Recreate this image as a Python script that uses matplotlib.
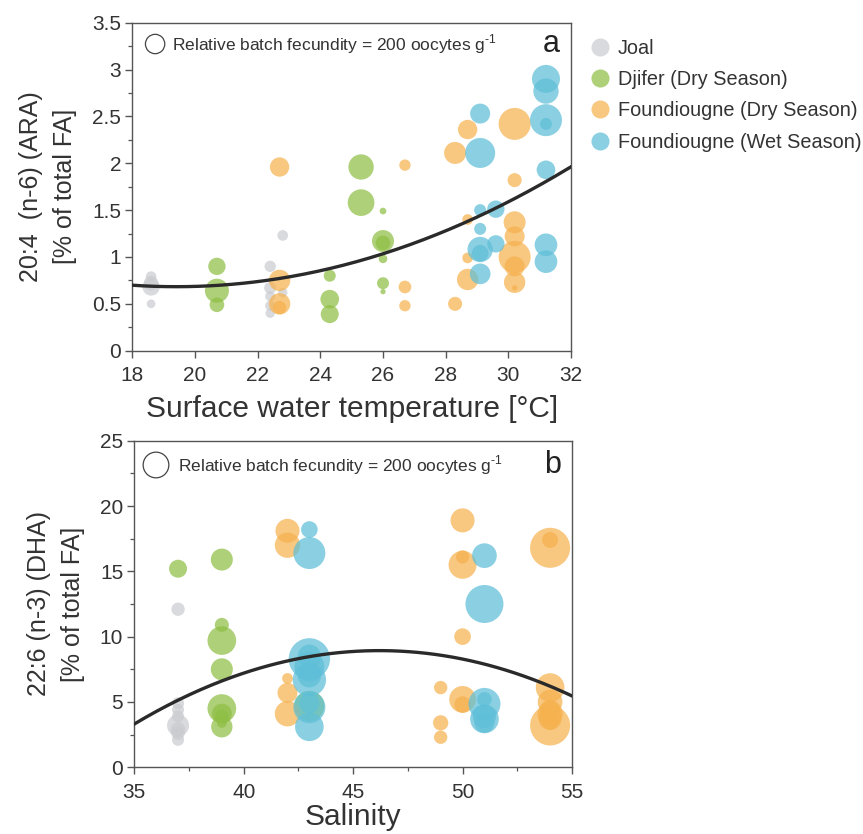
import matplotlib
matplotlib.use("Agg")
import matplotlib.pyplot as plt
import numpy as np
from matplotlib.lines import Line2D
from matplotlib.ticker import MultipleLocator, FormatStrFormatter

plt.rcParams["font.family"] = ["Liberation Sans", "DejaVu Sans"]
plt.rcParams["mathtext.fontset"] = "custom"
plt.rcParams["mathtext.rm"] = "Liberation Sans"

# ---- panel a: ARA vs surface water temperature ----
joal_a_temp = [18.6, 18.6, 18.6, 18.6, 22.4, 22.4, 22.4, 22.4, 22.4, 22.8, 22.8]
joal_a_ara = [0.79, 0.72, 0.68, 0.50, 0.90, 0.67, 0.58, 0.48, 0.40, 1.23, 0.62]
joal_a_fec = [61, 115, 161, 40, 69, 77, 54, 54, 47, 61, 47]

djifer_a_temp = [20.7, 20.7, 20.7, 24.3, 24.3, 24.3, 25.3, 25.3,
                 26.0, 26.0, 26.0, 26.0, 26.0, 26.0]
djifer_a_ara = [0.90, 0.64, 0.49, 0.80, 0.55, 0.39, 1.96, 1.58,
                1.49, 1.17, 1.15, 0.98, 0.72, 0.63]
djifer_a_fec = [161, 308, 115, 77, 186, 173, 343, 380, 24, 259, 115, 40, 77, 15]

fdry_a_temp = [22.7, 22.7, 22.7, 22.7, 26.7, 26.7, 26.7, 28.3, 28.3,
               28.7, 28.7, 28.7, 28.7,
               30.2, 30.2, 30.2, 30.2, 30.2, 30.2, 30.2, 30.2]
fdry_a_ara = [1.96, 0.75, 0.50, 0.46, 1.98, 0.68, 0.48, 2.11, 0.50,
              2.36, 1.40, 0.99, 0.76,
              2.42, 1.82, 1.37, 1.22, 1.00, 0.90, 0.73, 0.67]
fdry_a_fec = [200, 244, 244, 95, 69, 86, 69, 259, 105,
              200, 61, 61, 244,
              548, 105, 259, 214, 548, 214, 244, 15]

fwet_a_temp = [29.1, 29.1, 29.1, 29.1, 29.1, 29.1, 29.1, 29.6, 29.6,
               31.2, 31.2, 31.2, 31.2, 31.2, 31.2, 31.2]
fwet_a_ara = [2.53, 2.11, 1.50, 1.30, 1.08, 1.04, 0.82, 1.51, 1.14,
              2.90, 2.77, 2.46, 2.42, 1.93, 1.13, 0.95]
fwet_a_fec = [214, 482, 77, 77, 343, 149, 229, 161, 161,
              420, 343, 548, 77, 186, 275, 275]

# quadratic fit, vertex form: y = a * (x - x0)^2 + y0
ara_fit = {"a": 0.00806, "x0": 19.4, "y0": 0.683}

# ---- panel b: DHA vs salinity ----
joal_b_sal = [37, 37, 37, 37, 37, 37, 37, 37]
joal_b_dha = [12.1, 4.9, 4.4, 3.9, 3.2, 2.9, 2.6, 2.1]
joal_b_fec = [54, 44, 44, 44, 147, 65, 54, 44]

djifer_b_sal = [37, 39, 39, 39, 39, 39, 39, 39, 39, 39, 43]
djifer_b_dha = [15.2, 15.9, 10.9, 9.7, 7.5, 4.5, 4.1, 3.9, 3.4, 3.1, 4.7]
djifer_b_fec = [98, 147, 60, 249, 147, 249, 121, 54, 30, 138, 273]

fdry_b_sal = [42, 42, 42, 42, 42, 49, 49, 49, 50, 50, 50, 50, 50, 50,
              54, 54, 54, 54, 54, 54, 54, 54, 54]
fdry_b_dha = [18.1, 17.0, 6.8, 5.7, 4.1, 6.1, 3.4, 2.3,
              18.9, 16.1, 15.5, 10.0, 5.2, 4.8,
              17.4, 16.8, 6.1, 5.0, 4.4, 4.1, 3.75, 3.5, 3.2]
fdry_b_fec = [175, 195, 35, 121, 195, 54, 71, 54,
              175, 54, 238, 84, 216, 84,
              78, 486, 249, 185, 121, 195, 165, 84, 486]

fwet_b_sal = [43, 43, 43, 43, 43, 43, 43, 43, 43, 43,
              51, 51, 51, 51, 51, 51, 51]
fwet_b_dha = [18.2, 16.4, 8.3, 8.5, 7.7, 7.0, 6.7, 4.9, 4.6, 3.1,
              16.2, 12.5, 5.2, 4.85, 3.9, 3.7, 3.4]
fwet_b_fec = [84, 311, 519, 165, 273, 165, 337, 121, 311, 249,
              185, 438, 65, 311, 165, 249, 121]

dha_fit = {"a": -0.0448, "x0": 46.2, "y0": 8.93}

groups = ["Joal", "Djifer (Dry Season)", "Foundiougne (Dry Season)",
          "Foundiougne (Wet Season)"]
colors = ["#cbccd0", "#8fbf45", "#f6b24f", "#5fbfd8"]
ink = "#333333"

# marker area (pt^2) per unit of relative batch fecundity, one per panel
scale_a = 194 / 200
scale_b = 342 / 200

fig = plt.figure(figsize=(8.63, 8.34), dpi=100)
ax_a = fig.add_axes([0.1533, 0.5795, 0.5084, 0.3933])
ax_b = fig.add_axes([0.1556, 0.0800, 0.5072, 0.3916])

panel_a = [(joal_a_temp, joal_a_ara, joal_a_fec),
           (djifer_a_temp, djifer_a_ara, djifer_a_fec),
           (fdry_a_temp, fdry_a_ara, fdry_a_fec),
           (fwet_a_temp, fwet_a_ara, fwet_a_fec)]
panel_b = [(joal_b_sal, joal_b_dha, joal_b_fec),
           (djifer_b_sal, djifer_b_dha, djifer_b_fec),
           (fdry_b_sal, fdry_b_dha, fdry_b_fec),
           (fwet_b_sal, fwet_b_dha, fwet_b_fec)]


def draw_panel(ax, data, scale, fit, xlim, ylim, letter, label_pos):
    for (x, y, fec), col in zip(data, colors):
        ax.scatter(x, y, s=np.array(fec) * scale, color=col, alpha=0.72,
                   linewidths=0, zorder=2)
    xs = np.linspace(xlim[0], xlim[1], 200)
    ax.plot(xs, fit["a"] * (xs - fit["x0"]) ** 2 + fit["y0"],
            color="#2a2a2a", lw=2.4, zorder=3)
    ax.set_xlim(*xlim)
    ax.set_ylim(*ylim)

    # size key
    cx, cy, tx = label_pos
    ax.scatter([cx], [cy], s=200 * scale, facecolors="none",
               edgecolors="#444444", linewidths=0.9,
               transform=ax.transAxes, clip_on=False, zorder=4)
    ax.text(tx, cy, r"Relative batch fecundity = 200 oocytes g$^{\text{-1}}$",
            transform=ax.transAxes, ha="left", va="center",
            fontsize=12.5, color=ink)
    ax.text(0.955, cy, letter, transform=ax.transAxes, ha="center",
            va="center", fontsize=22, color="#222222")

    for sp in ax.spines.values():
        sp.set_color("#555555")
        sp.set_linewidth(1.0)
    ax.tick_params(which="both", direction="out", colors="#555555",
                   labelcolor=ink, labelsize=15)
    ax.tick_params(which="major", length=5, width=1.0)
    ax.tick_params(which="minor", length=3, width=0.9)
    ax.tick_params(axis="x", pad=6)
    ax.tick_params(axis="y", pad=3)
    ax.xaxis.set_major_formatter(FormatStrFormatter("%g"))
    ax.yaxis.set_major_formatter(FormatStrFormatter("%g"))


draw_panel(ax_a, panel_a, scale_a, ara_fit, (18, 32), (0, 3.5), "a",
           (0.052, 0.935, 0.09))
ax_a.xaxis.set_major_locator(MultipleLocator(2))
ax_a.yaxis.set_major_locator(MultipleLocator(0.5))
ax_a.yaxis.set_minor_locator(MultipleLocator(0.25))
ax_a.set_xlabel("Surface water temperature [°C]", fontsize=21.5,
                color=ink, labelpad=7)
ax_a.set_ylabel("20:4  (n-6) (ARA)\n[% of total FA]", fontsize=18,
                color=ink, labelpad=11, linespacing=1.5)

draw_panel(ax_b, panel_b, scale_b, dha_fit, (35, 55), (0, 25), "b",
           (0.0496, 0.9256, 0.099))
ax_b.xaxis.set_major_locator(MultipleLocator(5))
ax_b.xaxis.set_minor_locator(MultipleLocator(2.5))
ax_b.yaxis.set_major_locator(MultipleLocator(5))
ax_b.yaxis.set_minor_locator(MultipleLocator(2.5))
ax_b.set_xlabel("Salinity", fontsize=21.5, color=ink, labelpad=1)
ax_b.set_ylabel("22:6 (n-3) (DHA)\n[% of total FA]", fontsize=18,
                color=ink, labelpad=11, linespacing=1.5)

handles = [Line2D([], [], ls="none", marker="o", markersize=13,
                  markerfacecolor=c, markeredgewidth=0, alpha=0.72)
           for c in colors]
fig.legend(handles, groups, loc="upper left", bbox_to_anchor=(0.677, 0.963),
           frameon=False, fontsize=14.3, labelcolor=ink, handlelength=0.8,
           handletextpad=0.5, labelspacing=0.62, borderaxespad=0)

fig.savefig("out.png", dpi=100)
